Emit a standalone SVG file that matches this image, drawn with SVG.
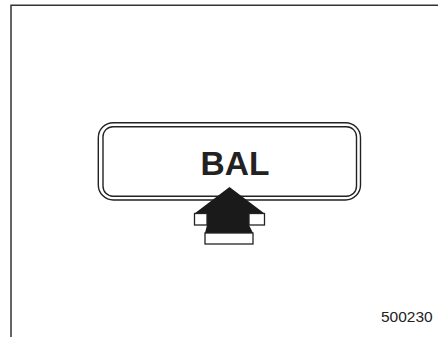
<svg xmlns="http://www.w3.org/2000/svg" width="438" height="337" viewBox="0 0 438 337">
  <style>
    .frame { fill: none; stroke: #333; stroke-width: 1.5; }
    .btn { fill: none; stroke: #222; stroke-width: 1.4; }
    .box { fill: #fff; stroke: #222; stroke-width: 1.3; }
    .arrow { fill: #1a1a1a; stroke: none; }
    .label { font-family: "Liberation Sans", Arial, sans-serif; fill: #222; }
  </style>
  <rect width="438" height="337" fill="#fff"/>
  <g id="frame">
    <path class="frame" d="M11,337 V5.3 H438"/>
  </g>
  <g id="button">
    <rect class="btn" x="98.3" y="122.7" width="262.2" height="77.3" rx="15" ry="15" fill="#fff"/>
    <rect class="btn" x="103" y="126.7" width="253.5" height="69.5" rx="10" ry="10"/>
    <text class="label" x="235" y="175" text-anchor="middle" font-size="33.5" font-weight="bold">BAL</text>
  </g>
  <g id="arrow">
    <polygon class="arrow" points="229.5,187 264.5,213.5 249,213.5 249,225 253,233 205,233 207,225 207,213.5 194.5,213.5"/>
    <rect class="box" x="194.5" y="213.5" width="12.5" height="11.5"/>
    <rect class="box" x="249" y="213.5" width="15.5" height="11.5"/>
    <rect class="box" x="205" y="233" width="48" height="11"/>
  </g>
  <g id="connectors"/>
  <g id="figure-number">
    <text class="label" x="432.7" y="322.3" text-anchor="end" font-size="15.5">500230</text>
  </g>
</svg>
